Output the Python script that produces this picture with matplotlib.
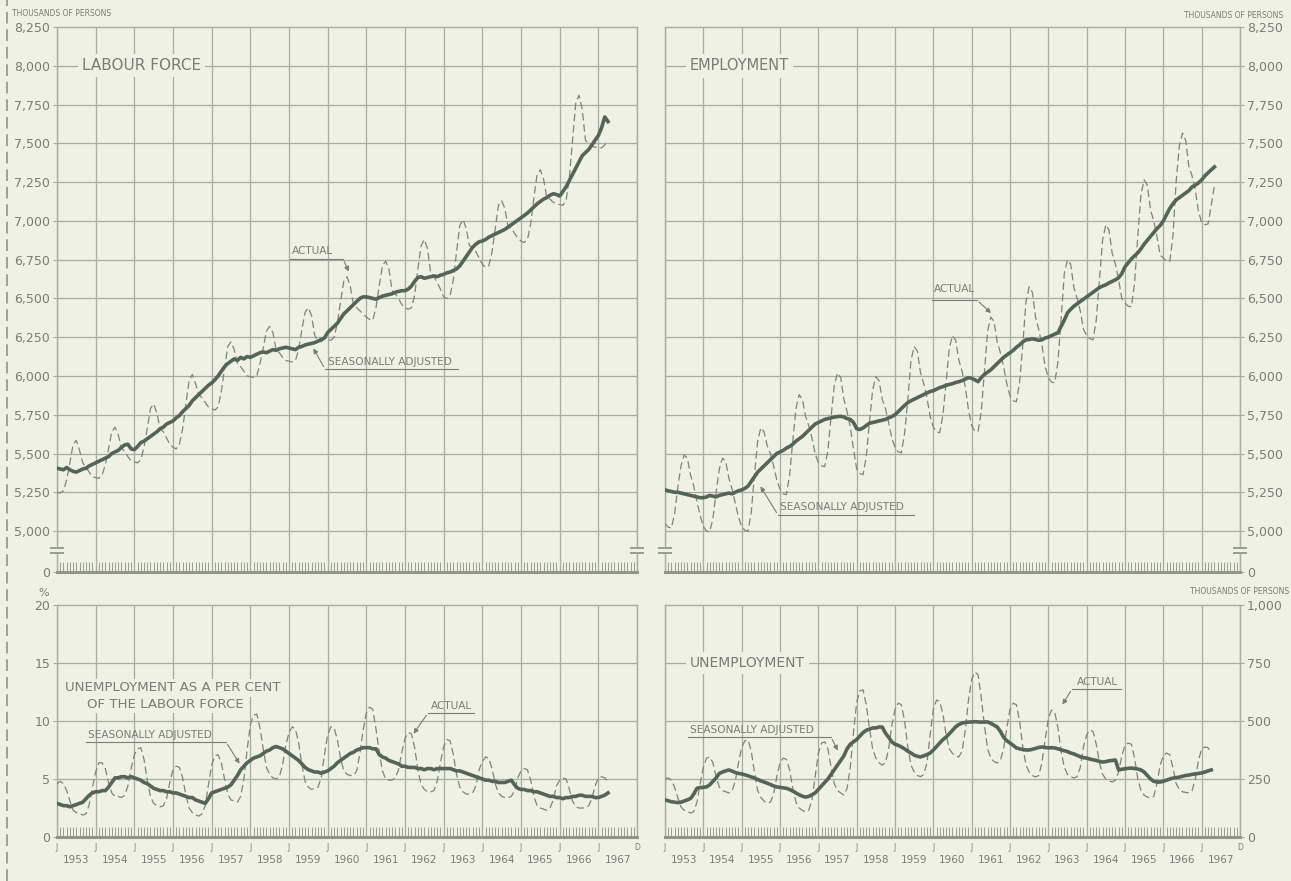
import matplotlib
matplotlib.use("Agg")
import matplotlib.pyplot as plt
import numpy as np
from matplotlib.lines import Line2D
from matplotlib.patches import FancyArrowPatch
from matplotlib.transforms import blended_transform_factory

# ---------------- data (monthly, Jan 1953 onward) ----------------
years = list(range(1953, 1968))

lf_sa = [5405, 5400, 5395, 5410, 5395, 5385, 5380, 5390, 5400, 5405, 5420, 5430,
         5440, 5450, 5460, 5470, 5480, 5500, 5510, 5520, 5540, 5555, 5560, 5530,
         5525, 5545, 5570, 5580, 5595, 5610, 5625, 5640, 5660, 5670, 5690, 5700,
         5710, 5730, 5745, 5770, 5790, 5810, 5840, 5860, 5880, 5900, 5920, 5940,
         5955, 5975, 6000, 6030, 6060, 6080, 6095, 6110, 6100, 6120, 6110, 6125,
         6120, 6130, 6140, 6150, 6155, 6150, 6160, 6170, 6165, 6175, 6180, 6185,
         6180, 6175, 6170, 6185, 6190, 6200, 6205, 6210, 6215, 6225, 6235, 6245,
         6280, 6300, 6320, 6340, 6370, 6400, 6420, 6440, 6460, 6480, 6500, 6510,
         6510, 6505, 6500, 6495, 6505, 6515, 6520, 6525, 6530, 6540, 6545, 6550,
         6550, 6560, 6580, 6610, 6635, 6640, 6630, 6635, 6640, 6645, 6640, 6650,
         6655, 6665, 6670, 6680, 6690, 6710, 6740, 6770, 6800, 6830, 6850, 6865,
         6870, 6880, 6895, 6905, 6915, 6925, 6935, 6945, 6960, 6975, 6990, 7005,
         7020, 7035, 7050, 7070, 7090, 7110, 7125, 7140, 7150, 7165, 7175, 7170,
         7160, 7190, 7220, 7260, 7300, 7340, 7380, 7420, 7440, 7460, 7490, 7520,
         7550, 7600, 7670, 7640]

lf_act = [5250, 5245, 5260, 5330, 5440, 5560, 5585, 5520, 5440, 5410, 5380, 5350,
          5345, 5340, 5360, 5430, 5530, 5640, 5670, 5620, 5540, 5510, 5480, 5450,
          5445, 5440, 5460, 5540, 5660, 5790, 5820, 5760, 5660, 5640, 5600, 5560,
          5540, 5530, 5560, 5660, 5820, 5970, 6010, 5950, 5880, 5860, 5830, 5800,
          5790, 5780, 5800, 5900, 6050, 6190, 6220, 6170, 6080, 6060, 6030, 6000,
          5995, 5990, 6000, 6080, 6180, 6290, 6320, 6280, 6170, 6150, 6120, 6100,
          6095, 6090, 6100, 6170, 6300, 6410, 6440, 6390, 6260, 6230, 6220, 6240,
          6235, 6230, 6250, 6340, 6480, 6610, 6640, 6580, 6460, 6440, 6420, 6400,
          6380, 6365, 6360, 6440, 6580, 6710, 6740, 6690, 6550, 6530, 6500, 6460,
          6440, 6430, 6440, 6520, 6690, 6840, 6880, 6820, 6660, 6640, 6600, 6560,
          6510, 6500, 6520, 6620, 6800, 6970, 7010, 6950, 6840, 6830, 6800, 6760,
          6720, 6700, 6710, 6800, 6950, 7100, 7130, 7080, 6960, 6950, 6920, 6890,
          6870, 6860, 6880, 6980, 7150, 7300, 7330, 7270, 7150, 7140, 7120, 7110,
          7105, 7100, 7130, 7280, 7520, 7760, 7810, 7720, 7520, 7500, 7480, 7475,
          7475, 7470, 7490, 7520]

emp_sa = [5265, 5260, 5255, 5250, 5250, 5245, 5240, 5235, 5230, 5225, 5220, 5215,
          5215, 5220, 5230, 5225, 5220, 5230, 5235, 5240, 5245, 5240, 5250, 5260,
          5265, 5275, 5290, 5320, 5350, 5380, 5400, 5420, 5440, 5460, 5480, 5500,
          5510, 5520, 5535, 5545, 5560, 5580, 5595, 5610, 5630, 5650, 5670, 5690,
          5700, 5710, 5720, 5725, 5730, 5735, 5738, 5740, 5735, 5725, 5720, 5700,
          5660, 5655, 5665, 5680, 5695, 5700, 5705, 5710, 5715, 5720, 5730, 5738,
          5750, 5770, 5790, 5810, 5828, 5840, 5850, 5860, 5870, 5880, 5890, 5900,
          5905, 5915, 5925, 5931, 5940, 5945, 5950, 5958, 5963, 5970, 5980, 5989,
          5985, 5975, 5963, 5990, 6010, 6025, 6040, 6060, 6080, 6100, 6120, 6135,
          6150, 6165, 6185, 6200, 6220, 6233, 6235, 6240, 6235, 6230, 6233, 6245,
          6250, 6260, 6270, 6278, 6320, 6360, 6407, 6430, 6450, 6465, 6480, 6495,
          6510, 6525, 6540, 6555, 6570, 6580, 6588, 6600, 6610, 6620, 6633, 6660,
          6704, 6730, 6755, 6775, 6794, 6820, 6850, 6875, 6900, 6925, 6950, 6970,
          7000, 7040, 7080, 7110, 7135, 7150, 7165, 7180, 7195, 7219, 7230, 7245,
          7264, 7290, 7310, 7329, 7348]

emp_act = [5050, 5025, 5020, 5110, 5280, 5420, 5490, 5470, 5360, 5290, 5190, 5100,
           5030, 5000, 4995, 5080, 5250, 5400, 5470, 5450, 5340, 5270, 5180, 5090,
           5030, 5005, 5000, 5120, 5360, 5580, 5666, 5640, 5550, 5500, 5420, 5330,
           5270, 5240, 5235, 5360, 5580, 5790, 5880, 5850, 5740, 5680, 5600, 5500,
           5440, 5420, 5415, 5520, 5740, 5940, 6020, 5990, 5850, 5770, 5670, 5530,
           5400, 5370, 5364, 5480, 5700, 5910, 5995, 5970, 5850, 5790, 5700, 5600,
           5540, 5510, 5505, 5630, 5840, 6100, 6190, 6160, 6020, 5950, 5860, 5740,
           5670, 5640, 5634, 5750, 5960, 6180, 6260, 6230, 6100, 6030, 5930, 5780,
           5680, 5645, 5641, 5770, 6030, 6290, 6380, 6350, 6220, 6150, 6060, 5950,
           5870, 5840, 5834, 5960, 6200, 6480, 6575, 6540, 6380, 6300, 6200, 6060,
           5990, 5960, 5956, 6090, 6370, 6660, 6750, 6720, 6570, 6500, 6420, 6300,
           6260, 6240, 6233, 6360, 6620, 6880, 6975, 6940, 6790, 6720, 6620, 6500,
           6470, 6450, 6446, 6600, 6900, 7170, 7265, 7230, 7070, 7000, 6900, 6780,
           6760, 6740, 6736, 6900, 7250, 7480, 7567, 7520, 7350, 7290, 7200, 7060,
           6990, 6975, 6980, 7100, 7230]

ur_sa = [2.9, 2.8, 2.7, 2.7, 2.6, 2.7, 2.8, 2.9, 3.0, 3.3, 3.6, 3.8,
         3.9, 3.9, 4.0, 4.0, 4.3, 4.7, 5.1, 5.1, 5.2, 5.2, 5.1, 5.2,
         5.1, 5.0, 4.9, 4.7, 4.6, 4.4, 4.2, 4.1, 4.0, 4.0, 3.9, 3.9,
         3.8, 3.8, 3.7, 3.6, 3.5, 3.4, 3.4, 3.2, 3.1, 3.0, 2.9, 3.3,
         3.8, 3.9, 4.0, 4.1, 4.2, 4.3, 4.5, 4.9, 5.3, 5.8, 6.1, 6.4,
         6.6, 6.8, 6.9, 7.0, 7.2, 7.4, 7.5, 7.7, 7.8, 7.7, 7.6, 7.4,
         7.2, 7.0, 6.8, 6.6, 6.3, 6.0, 5.8, 5.7, 5.6, 5.6, 5.5, 5.6,
         5.7, 5.9, 6.1, 6.4, 6.6, 6.8, 7.0, 7.2, 7.3, 7.5, 7.6, 7.7,
         7.7, 7.7, 7.6, 7.6, 7.1, 6.9, 6.8, 6.6, 6.5, 6.4, 6.3, 6.1,
         6.1, 6.0, 6.0, 6.0, 5.9, 5.9, 5.8, 5.9, 5.9, 5.8, 5.9, 5.9,
         5.9, 5.9, 5.9, 5.8, 5.7, 5.7, 5.6, 5.5, 5.4, 5.3, 5.2, 5.1,
         5.0, 4.9, 4.9, 4.8, 4.8, 4.7, 4.7, 4.7, 4.8, 4.9, 4.5, 4.2,
         4.1, 4.1, 4.0, 4.0, 3.9, 3.9, 3.8, 3.7, 3.6, 3.5, 3.5, 3.4,
         3.4, 3.3, 3.4, 3.4, 3.5, 3.5, 3.6, 3.6, 3.5, 3.5, 3.5, 3.4,
         3.4, 3.5, 3.6, 3.8]

ur_act = [4.6, 4.8, 4.6, 4.0, 3.1, 2.3, 2.1, 2.0, 1.9, 2.0, 2.8, 4.3,
          5.6, 6.4, 6.4, 5.9, 4.7, 3.8, 3.5, 3.5, 3.4, 3.6, 4.4, 5.9,
          7.1, 7.6, 7.7, 6.7, 4.9, 3.5, 2.9, 2.7, 2.6, 2.7, 3.3, 4.7,
          5.8, 6.1, 6.0, 5.1, 3.6, 2.5, 2.1, 1.9, 1.8, 2.0, 2.7, 4.5,
          6.2, 7.0, 7.1, 6.4, 5.0, 3.7, 3.2, 3.1, 3.0, 3.5, 5.0, 7.5,
          9.7, 10.5, 10.6, 9.4, 7.6, 6.0, 5.4, 5.1, 5.0, 5.2, 6.2, 7.9,
          9.0, 9.5, 9.3, 8.1, 6.2, 4.8, 4.3, 4.1, 4.2, 4.3, 5.1, 7.1,
          8.8, 9.5, 9.4, 8.4, 6.8, 5.7, 5.4, 5.3, 5.3, 5.7, 7.2, 9.2,
          10.7, 11.2, 11.0, 9.3, 7.3, 5.7, 5.0, 4.9, 4.9, 5.1, 5.8, 7.3,
          8.5, 9.0, 8.9, 7.7, 5.8, 4.5, 4.1, 3.9, 3.9, 4.0, 4.8, 6.4,
          7.8, 8.4, 8.3, 7.1, 5.4, 4.3, 3.9, 3.7, 3.7, 3.8, 4.4, 5.8,
          6.5, 6.9, 6.8, 5.9, 4.6, 3.8, 3.5, 3.4, 3.4, 3.5, 4.0, 5.1,
          5.7, 5.9, 5.8, 4.9, 3.5, 2.7, 2.5, 2.4, 2.3, 2.5, 3.2, 4.4,
          4.9, 5.1, 5.0, 4.1, 3.1, 2.6, 2.5, 2.5, 2.5, 2.7, 3.3, 4.4,
          5.1, 5.2, 5.1, 4.8]

un_sa = [160, 156, 152, 150, 148, 150, 155, 160, 166, 185, 210, 213,
         214, 216, 225, 240, 255, 274, 280, 285, 289, 284, 278, 274,
         272, 268, 264, 259, 254, 248, 242, 237, 232, 226, 220, 216,
         214, 212, 210, 205, 198, 190, 182, 176, 172, 175, 182, 190,
         205, 220, 235, 250, 270, 290, 310, 330, 350, 380, 400, 410,
         420, 435, 450, 460, 465, 470, 470, 474, 474, 448, 430, 410,
         400, 395, 388, 380, 370, 362, 353, 348, 345, 350, 355, 362,
         375, 390, 405, 420, 431, 445, 460, 475, 485, 491, 494, 495,
         496, 497, 496, 495, 496, 496, 490, 482, 474, 455, 430, 415,
         405, 395, 384, 380, 377, 375, 375, 378, 382, 386, 388, 386,
         384, 385, 384, 380, 376, 372, 368, 362, 358, 352, 346, 342,
         340, 336, 333, 330, 326, 323, 325, 328, 330, 332, 289, 292,
         294, 296, 297, 295, 293, 289, 280, 265, 250, 240, 237, 237,
         240, 245, 250, 254, 256, 258, 262, 265, 267, 270, 272, 274,
         276, 280, 285, 289]

un_act = [250, 255, 245, 215, 170, 130, 115, 110, 103, 110, 150, 230,
          300, 340, 345, 320, 260, 215, 200, 195, 190, 200, 240, 320,
          385, 415, 418, 370, 280, 200, 170, 155, 146, 150, 185, 260,
          320, 340, 335, 290, 210, 150, 125, 115, 108, 115, 160, 260,
          360, 405, 410, 380, 300, 230, 200, 190, 181, 210, 300, 450,
          580, 630, 634, 570, 470, 380, 340, 320, 310, 320, 380, 480,
          550, 577, 570, 500, 390, 310, 280, 265, 260, 270, 320, 440,
          550, 590, 585, 530, 440, 380, 360, 350, 345, 370, 460, 590,
          680, 711, 700, 600, 480, 380, 340, 325, 319, 330, 380, 470,
          550, 577, 570, 500, 390, 310, 280, 265, 259, 265, 320, 420,
          510, 547, 540, 470, 370, 300, 270, 260, 254, 260, 300, 390,
          440, 461, 455, 400, 320, 270, 250, 242, 237, 245, 280, 350,
          395, 405, 400, 340, 250, 200, 180, 172, 168, 175, 230, 310,
          350, 362, 355, 300, 230, 205, 195, 192, 190, 200, 250, 330,
          380, 388, 385, 362]

top_ticks = [5000, 5250, 5500, 5750, 6000, 6250, 6500, 6750, 7000, 7250, 7500, 7750, 8000, 8250]
pct_ticks = [0, 5, 10, 15, 20]
un_ticks = [0, 250, 500, 750, 1000]

# ---------------- style ----------------
BG = "#eef1e3"
GRID = "#a6ad a2".replace(" ", "")
TXT = "#787e75"
SA_C = "#566357"
ACT_C = "#7c857a"
W, H = 1291, 881
FONT = "DejaVu Sans"
plt.rcParams["font.family"] = FONT

fig = plt.figure(figsize=(W / 100, H / 100), dpi=100, facecolor=BG)


def px_axes(x0, y0, x1, y1):
    return fig.add_axes([x0 / W, 1 - y1 / H, (x1 - x0) / W, (y1 - y0) / H])


def mx(series):
    return 1953 + np.arange(len(series)) / 12.0


def base_style(ax, ylo, yhi, ticks, labels, grid_vals, right):
    ax.set_facecolor(BG)
    ax.set_xlim(1953, 1968)
    ax.set_ylim(ylo, yhi)
    for s in ax.spines.values():
        s.set_color(GRID)
        s.set_linewidth(1.0)
    ax.spines["bottom"].set_linewidth(2.2)
    ax.spines["bottom"].set_color("#8f978b")
    ax.set_xticks(np.arange(1953, 1969))
    ax.set_xticklabels([])
    ax.set_xticks(np.arange(1953, 1968, 1 / 12.0), minor=True)
    ax.tick_params(axis="x", which="major", length=0)
    ax.tick_params(axis="x", which="minor", direction="in", length=7,
                   width=0.7, color="#98a094")
    ax.grid(axis="x", which="major", color=GRID, lw=0.9, zorder=1)
    for v in grid_vals:
        ax.axhline(v, color=GRID, lw=0.9, zorder=1)
    ax.set_yticks(ticks)
    ax.set_yticklabels(labels, fontsize=9, color=TXT)
    ax.tick_params(axis="y", length=3, width=0.8, color=GRID, pad=2)
    if right:
        ax.yaxis.tick_right()
    ax.set_axisbelow(True)


def year_labels(ax):
    tr = blended_transform_factory(ax.transData, ax.transAxes)
    for y in years:
        ax.text(y, -0.045, "J", transform=tr, ha="center", va="center",
                fontsize=5.5, color=TXT)
        ax.text(y + 0.5, -0.1, str(y), transform=tr, ha="center", va="center",
                fontsize=7.5, color=TXT)
    ax.text(1968, -0.045, "D", transform=tr, ha="center", va="center",
            fontsize=5.5, color=TXT)


def break_marks(ax, ya, yb):
    tr = blended_transform_factory(ax.transAxes, ax.transData)
    for xe in (0, 1):
        ax.plot([xe, xe], [ya + 8, yb - 8], color=BG, lw=3, transform=tr,
                clip_on=False, zorder=6)
        for yy in (ya, yb):
            ax.plot([xe - 0.012, xe + 0.012], [yy, yy], color="#8f978b", lw=1.3,
                    transform=tr, clip_on=False, zorder=7, solid_capstyle="butt")


def draw(ax, act, sa):
    ax.plot(mx(act), act, color=ACT_C, lw=0.9, ls=(0, (6, 3)), zorder=3)
    ax.plot(mx(sa), sa, color=SA_C, lw=2.6, zorder=4, solid_joinstyle="round")


def title(ax, x, y, s, size=10.5):
    ax.text(x, y, s, fontsize=size, color=TXT, ha="left", va="center", zorder=5,
            bbox=dict(facecolor=BG, edgecolor="none", pad=3))


def fig_text(px, py, s, size=7, ha="left", va="center"):
    fig.text(px / W, 1 - py / H, s, fontsize=size, color=TXT, ha=ha, va=va)


def fig_line(pts, lw=0.8, color=TXT):
    xs = [p[0] / W for p in pts]
    ys = [1 - p[1] / H for p in pts]
    fig.add_artist(Line2D(xs, ys, transform=fig.transFigure, color=color, lw=lw))


def fig_arrow(p0, p1):
    fig.add_artist(FancyArrowPatch((p0[0] / W, 1 - p0[1] / H), (p1[0] / W, 1 - p1[1] / H),
                                   transform=fig.transFigure, arrowstyle="-|>",
                                   mutation_scale=7, color=TXT, lw=0.8))


def note(text, tx, ty, ul0, ul1, uly, start, tip, size=7.6):
    fig_text(tx, ty, text, size=size)
    fig_line([(ul0, uly), (ul1, uly)])
    fig_arrow(start, tip)


# ---------------- axes ----------------
TOP_LO = 4736
top_labels = ["0"] + [f"{v:,}" for v in top_ticks]
ax_lf = px_axes(57, 27, 637, 572)
ax_emp = px_axes(665, 27, 1240, 572)
ax_ur = px_axes(57, 605, 637, 837)
ax_un = px_axes(665, 605, 1240, 837)

base_style(ax_lf, TOP_LO, 8250, [TOP_LO] + top_ticks, top_labels, top_ticks[:-1], False)
base_style(ax_emp, TOP_LO, 8250, [TOP_LO] + top_ticks, top_labels, top_ticks[:-1], True)
base_style(ax_ur, 0, 20, pct_ticks, [str(v) for v in pct_ticks], pct_ticks[1:-1], False)
base_style(ax_un, 0, 1000, un_ticks, [f"{v:,}" for v in un_ticks], un_ticks[1:-1], True)

draw(ax_lf, lf_act, lf_sa)
draw(ax_emp, emp_act, emp_sa)
draw(ax_ur, ur_act, ur_sa)
draw(ax_un, un_act, un_sa)

break_marks(ax_lf, 4859, 4891)
break_marks(ax_emp, 4859, 4891)
year_labels(ax_ur)
year_labels(ax_un)

title(ax_lf, 1953.65, 8000, "LABOUR FORCE", 11)
title(ax_emp, 1953.65, 8000, "EMPLOYMENT")
title(ax_un, 1953.65, 750, "UNEMPLOYMENT", 10)
ax_ur.text(1953.2, 12.85, "UNEMPLOYMENT AS A PER CENT", fontsize=9.6, color=TXT,
           ha="left", va="center", zorder=5,
           bbox=dict(facecolor=BG, edgecolor="none", pad=1.5))
ax_ur.text(1953.78, 11.4, "OF THE LABOUR FORCE", fontsize=9.6, color=TXT,
           ha="left", va="center", zorder=5,
           bbox=dict(facecolor=BG, edgecolor="none", pad=1.5))

# units
fig_text(12, 14, "THOUSANDS OF PERSONS", size=5.5)
fig_text(1283, 15, "THOUSANDS OF PERSONS", size=5.5, ha="right")
fig_text(1289, 591, "THOUSANDS OF PERSONS", size=5.5, ha="right")
fig_text(44, 593, "%", size=8, ha="center")

# annotations
note("ACTUAL", 292, 251, 290, 343, 259, (343, 259), (350, 274))
note("SEASONALLY ADJUSTED", 328, 362, 325, 458, 369, (325, 369), (312, 346))
note("ACTUAL", 934, 289, 932, 977, 300, (977, 300), (993, 315))
note("SEASONALLY ADJUSTED", 780, 507, 778, 914, 515, (778, 515), (759, 484))
note("ACTUAL", 431, 706, 428, 474, 713, (428, 713), (412, 736))
note("SEASONALLY ADJUSTED", 88, 735, 86, 226, 742, (226, 742), (241, 766))
note("ACTUAL", 1077, 682, 1072, 1121, 689, (1072, 689), (1061, 707))
note("SEASONALLY ADJUSTED", 690, 730, 688, 831, 737, (831, 737), (839, 753))

# page border
fig.add_artist(Line2D([7 / W, 7 / W], [0, 1], transform=fig.transFigure,
                      color="#9aa196", lw=1.4, ls=(0, (6, 3))))

fig.savefig("out.png", dpi=100, facecolor=BG)
